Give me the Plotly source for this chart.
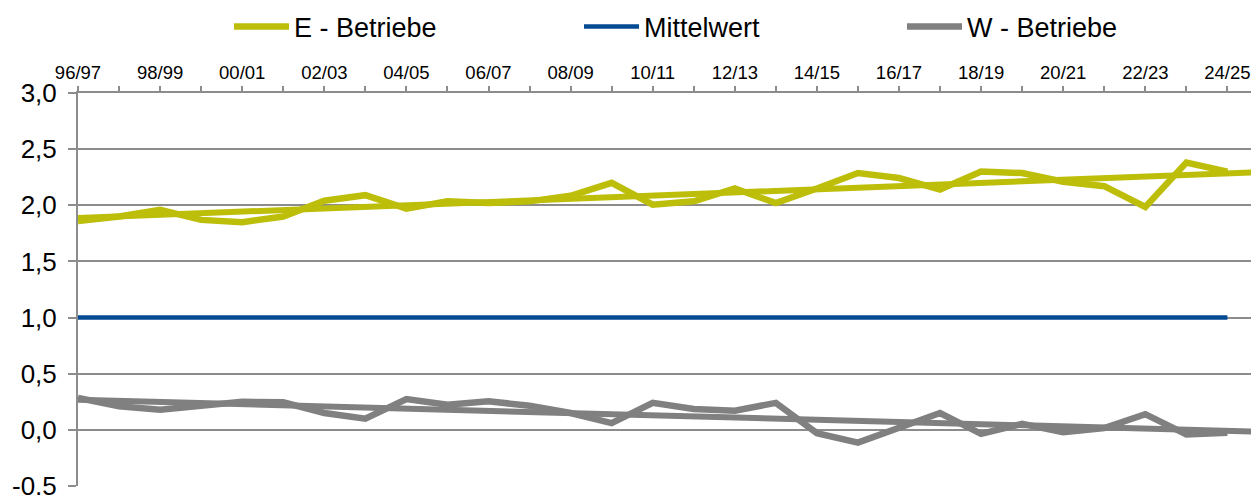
import numpy as np
import plotly.graph_objects as go

seasons = [f"{y % 100:02d}/{(y + 1) % 100:02d}" for y in range(1996, 2025)]
e_betriebe = [1.86, 1.90, 1.96, 1.87, 1.85, 1.90, 2.04, 2.09, 1.97, 2.035,
              2.02, 2.035, 2.085, 2.20, 2.005, 2.035, 2.15, 2.02, 2.15, 2.287,
              2.243, 2.14, 2.30, 2.287, 2.21, 2.17, 1.985, 2.38, 2.30]
mittelwert = [1.0] * len(seasons)
w_betriebe = [0.285, 0.21, 0.18, 0.22, 0.25, 0.245, 0.15, 0.10, 0.275, 0.224,
              0.254, 0.215, 0.15, 0.06, 0.24, 0.185, 0.17, 0.24, -0.03, -0.113,
              0.015, 0.15, -0.035, 0.054, -0.02, 0.015, 0.14, -0.04, -0.025]
y_ticks = [-0.5, 0.0, 0.5, 1.0, 1.5, 2.0, 2.5, 3.0]

OLIVE = "#BDBE0A"
BLUE = "#004B93"
GRAY = "#808080"
FONT = "Liberation Sans, Arial, sans-serif"

W, H = 1251, 487  # page body has an 8px margin

x = np.arange(len(seasons))
x_trend = np.array([0, len(seasons)])  # trend extended one period forward


def trend(vals):
    k, d = np.polyfit(x, vals, 1)
    return k * x_trend + d


fig = go.Figure()
fig.add_trace(go.Scatter(x=x_trend, y=trend(e_betriebe), mode="lines",
                         line=dict(color=OLIVE, width=6), showlegend=False))
fig.add_trace(go.Scatter(x=x_trend, y=trend(w_betriebe), mode="lines",
                         line=dict(color=GRAY, width=6), showlegend=False))
fig.add_trace(go.Scatter(x=x, y=e_betriebe, mode="lines", name="E - Betriebe",
                         line=dict(color=OLIVE, width=6.5), legendwidth=280))
fig.add_trace(go.Scatter(x=x, y=mittelwert, mode="lines", name="Mittelwert",
                         line=dict(color=BLUE, width=4.5), legendwidth=253))
fig.add_trace(go.Scatter(x=x, y=w_betriebe, mode="lines", name="W - Betriebe",
                         line=dict(color=GRAY, width=6.5), legendwidth=170))

fig.update_layout(
    width=W, height=H,
    margin=dict(l=70, r=0, t=85, b=9, autoexpand=False),
    paper_bgcolor="white", plot_bgcolor="white",
    font=dict(family=FONT, color="black"),
    legend=dict(orientation="h", xref="container", yref="container",
                x=221 / W, xanchor="left", y=1 - 19 / H, yanchor="middle",
                font=dict(size=27), itemwidth=55, traceorder="normal"),
    xaxis=dict(range=[0, (W - 70) / 41.05], side="top", automargin=False,
               tickvals=list(x),
               ticktext=[s if i % 2 == 0 else "" for i, s in enumerate(seasons)],
               ticks="outside", ticklen=5, tickcolor="#8c8c8c", tickwidth=1.5,
               tickfont=dict(size=18.5), showgrid=False, zeroline=False,
               showline=True, linecolor="#8c8c8c", linewidth=2),
    yaxis=dict(range=[-0.5, 3.0], tickvals=y_ticks, automargin=False,
               ticktext=[f"{v:.1f}".replace(".", ",") for v in y_ticks],
               ticks="outside", ticklen=8, tickcolor="#8c8c8c", tickwidth=1.5,
               tickfont=dict(size=26), ticklabelstandoff=6,
               ticklabeloverflow="allow",
               showgrid=True, gridcolor="#8c8c8c",
               gridwidth=1.5, zeroline=False, showline=True,
               linecolor="#8c8c8c", linewidth=2),
)

fig.write_html("out.html")
